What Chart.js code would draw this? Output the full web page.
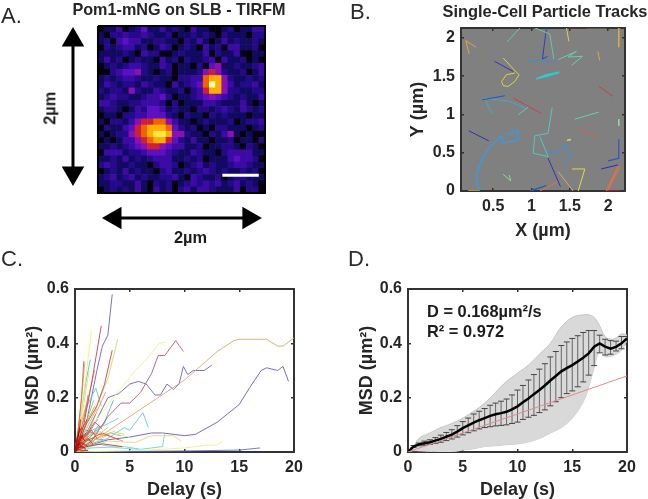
<!DOCTYPE html>
<html>
<head>
<meta charset="utf-8">
<script src="https://cdn.jsdelivr.net/npm/chart.js@4"></script>
<style>
  html, body { margin: 0; padding: 0; background: #fff; }
  #page { position: relative; width: 648px; height: 499px; overflow: hidden; font-family: 'Liberation Sans', Arial, sans-serif; color: #1c1c1c; filter: blur(.4px); }
  canvas { position: absolute; }
  .letter { position: absolute; font-size: 22px; line-height: 1; color: #2a2a2a; }
  .note { position: absolute; font-size: 16.4px; line-height: 1; font-weight: bold; white-space: nowrap; }
</style>
</head>
<body>
<div id="page">
  <canvas id="panelA" width="358" height="250" style="left:0;top:0"></canvas>
  <canvas id="panelB" width="290" height="240" style="left:400px;top:0"></canvas>
  <canvas id="panelC" width="324" height="249" style="left:0;top:250px"></canvas>
  <canvas id="panelD" width="324" height="249" style="left:324px;top:250px"></canvas>
  <div class="letter" style="left:1px;top:5px">A.</div>
  <div class="letter" style="left:350px;top:1px">B.</div>
  <div class="letter" style="left:1px;top:248px">C.</div>
  <div class="letter" style="left:348px;top:248px">D.</div>
  <div class="note" style="left:33px;top:100px;transform:rotate(-90deg)">2µm</div>
  <div class="note" style="left:174px;top:229px">2µm</div>
  <div class="note" style="left:427px;top:303px">D = 0.168µm²/s</div>
  <div class="note" style="left:427px;top:323px">R² = 0.972</div>
</div>
<script>
// Panel A: camera image, one string per row, intensity level per cell
const heatRows = [
  '011301241131210311001201133',
  '102232232112011212102111022',
  '120343311221102131013121121',
  '021233120132012103120331120',
  '111121032200121113021130011',
  '131201211031202112303112010',
  '012123321132011020451121123',
  '002344521012011125652112013',
  '121233211211022337885211212',
  '132122132110312347a85312231',
  '212215211321120236885221122',
  '123221123342011234543212113',
  '332112233320201113321113101',
  '122101324431211022123213212',
  '011022334442102110212111011',
  '102213566775311012111201223',
  '021134678887421201022111012',
  '101225678998552110213510100',
  '010133567886421311011201102',
  '112123456654331120112210210',
  '033312234443211321102333311',
  '112131212333112120111343320',
  '232112110233201231211233211',
  '012131211023112123212112120',
  '123123121122310321120122111',
  '112211310212012323231231210',
  '012121310312023133211130220'
];
const scaleBarCols = [20.1, 26];
const scaleBarRows = [24.1, 24.1];
const imageEdgeX = [0, 27, 27, 0, 0];
const imageEdgeY = [0, 0, 27, 27, 0];
const arrowUpDownX = [-4.04, -4.04];
const arrowUpDownY = [2.26, 23.77];
const arrowLeftRightX = [2.75, 24.4];
const arrowLeftRightY = [31.04, 31.04];

// Panel B: particle tracks as [x, y] in µm
const trackPaths = [
  [[.274,1.88],[.143,1.965],[.187,1.79]],
  [[.683,1.948],[.857,2.14],[1.022,2.14],[1.239,2.052],[1.291,1.725]],
  [[1.196,2.14],[1.143,1.725],[1.209,1.76]],
  [[1.457,2.131],[1.487,1.956]],
  [[1.457,2.135],[1.717,2.135]],
  [[1.717,2.135],[1.978,2.135]],
  [[2.139,2.131],[2.139,1.878]],
  [[.517,1.694],[.761,1.563]],
  [[.63,1.738],[.804,1.55],[.839,1.52],[.783,1.432],[.696,1.367],[.63,1.376],[.609,1.432],[.674,1.52],[.783,1.541]],
  [[.935,1.686],[1.109,1.716],[1.326,1.686]],
  [[1.348,1.716],[1.587,1.825],[1.478,1.751],[1.665,1.76],[1.522,1.642]],
  [[1.865,1.825],[1.891,1.703]],
  [[1.057,1.463],[1.196,1.52],[1.361,1.55],[1.2,1.5],[1.074,1.472]],
  [[1.878,1.367],[2.065,1.236]],
  [[.361,1.192],[.652,1.245]],
  [[.491,1.009],[.435,1.105],[.391,1.214],[.717,1.17],[.913,1.083]],
  [[.826,.996],[.957,1.096]],
  [[.761,1.214],[1.122,1.017]],
  [[1.565,.939],[1.878,1.031]],
  [[2.139,.939],[2.139,.852]],
  [[1.27,1.092],[1.217,.755],[1.043,.721],[1.022,.493],[1.217,.45],[1.109,.712]],
  [[.183,.786],[.443,.655]],
  [[.317,0],[.274,.188],[.348,.406],[.457,.581],[.609,.721],[.63,.624],[.826,.668],[.826,.79],[.674,.734]],
  [[1.196,.515],[1.326,.493],[1.448,.603],[1.509,.472],[1.413,.341]],
  [[1.487,.677],[1.491,.659]],
  [[1.617,.799],[1.857,.712]],
  [[2.139,.677],[2.139,.428],[2,.393]],
  [[1.909,.288],[2.13,.341]],
  [[1.217,.428],[1.378,.057]],
  [[1.53,.288],[1.696,.288],[1.609,0]],
  [[.63,.218],[.73,.131],[.709,.21]],
  [[1.978,0],[2.13,.332],[2,.013],[2.152,.319]],
  [[1.348,.253],[1.543,0]],
  [[1.109,0],[1.361,.131]],
  [[.978,0],[1.196,.07]],
  [[.174,0],[.326,0]],
  [[1.978,0],[2.152,0]]
];
const trackColors = ['#e8a234','#66c8a4','#2f3fc0','#d8d050','#9c2a30','#a8962e','#dcb040','#3535b5','#e2d23e','#3f8fc4','#62d0b0','#e2a448','#2fc8d8','#c04444','#2a50c0','#40a8c0','#62c8d2','#c84444','#62d0b0','#90d8a0','#50c8c8','#3030b0','#4a94c8','#4090d0','#e4e440','#d06050','#3050d0','#2830b0','#3030c0','#e0d850','#84d8a0','#e07048','#e0a070','#e07040','#2060c0','#a89a2a','#9c2020'];
const trackWidths = [1,1,1,1,1.5,1.5,1.5,1,1,1.2,1,1,1.6,1,1,1.2,1,1,1,1,1,1,2,1.3,4,1,1.2,1,1,1,1,1.1,1,1,1.5,2,2];

// Panel C: MSD curves for single tracks, [delay, msd]
const msdLines = [
  [[0,0],[1,.05],[2,.12],[3,.2],[4,.215],[5,.25],[5.8,.26],[6.5,.25],[7.3,.21],[7.8,.21],[8.4,.25],[9,.23],[9.5,.25],[9.9,.315],[10.3,.285],[10.8,.3],[11.8,.3],[12.5,.32]],
  [[0,0],[1,.02],[3,.045],[5,.055],[7,.07],[8,.07],[10,.06],[11,.065],[13,.11],[15,.175],[16,.24],[17,.3],[17.5,.31],[18.5,.3],[19,.315],[19.5,.26]],
  [[0,0],[1,.1],[2,.3],[2.5,.39],[3,.43],[3.4,.58]],
  [[0,0],[5,.002],[10,.004],[15,.007],[16.9,.015]],
  [[0,0],[.6,.04],[1.3,.09],[1.9,.14]],
  [[0,0],[1,.02],[2,.05],[3.2,.07],[4.2,.06]],
  [[0,0],[.8,.03],[1.5,.06],[2.2,.1]],
  [[0,0],[.5,.05],[1,.08],[1.6,.07]],
  [[0,0],[.6,.02],[1.2,.045],[2,.03]],
  [[0,0],[1.5,.03],[3,.05],[4.5,.09],[5,.08],[6.2,.145],[6.7,.09]],
  [[0,0],[1.5,.015],[4.5,.02],[6,.01],[7,.015],[8,.02],[8.2,.07]],
  [[0,0],[.5,.08],[1.1,.17],[1.9,.235],[2.4,.17]],
  [[0,0],[1.5,.08],[2.8,.1],[4,.125]],
  [[0,0],[.5,.13],[1,.26],[1.4,.34]],
  [[0,0],[.7,.05],[1.3,.08],[2.1,.12]],
  [[0,0],[2,.03],[4,.015],[5.8,.01]],
  [[0,0],[1.5,.06],[2.6,.1],[3.2,.16],[3.5,.19]],
  [[0,0],[1,.05],[2,.08],[2.8,.11]],
  [[0,0],[.4,.04],[1.2,.1],[2,.16]],
  [[0,0],[2,.04],[3.5,.075],[4.5,.065]],
  [[0,0],[.6,.06],[1.2,.13],[1.7,.19]],
  [[0,0],[1,.03],[2,.06],[3,.09]],
  [[0,0],[1.5,.12],[3,.27],[3.9,.415]],
  [[0,0],[.5,.12],[1,.28],[1.5,.445]],
  [[0,0],[.4,.08],[.9,.2],[1.3,.3]],
  [[0,0],[1.2,.03],[3,.07],[5,.055]],
  [[0,0],[.8,.04],[1.6,.07],[2.4,.075]],
  [[0,0],[2,.12],[3.5,.2],[5.5,.3],[6.5,.34],[7.7,.4],[8.3,.405]],
  [[0,0],[5,.005],[8,.01],[10,.015],[12,.025],[13,.025],[13.5,.04]],
  [[0,0],[3,.04],[5.5,.035],[7,.06],[9,.06],[9.7,.04]],
  [[0,0],[2,.05],[10,.265],[13,.37],[14.5,.41],[15,.415],[17.5,.415],[18.5,.39],[19,.39],[20,.42]],
  [[0,0],[.3,.08],[.6,.2],[.9,.33]],
  [[0,0],[.5,.1],[1.1,.18],[1.8,.3]],
  [[0,0],[1,.05],[2,.15],[2.8,.22]],
  [[0,0],[1.5,.07],[3,.06],[4.4,.04]],
  [[0,0],[.6,.07],[1.2,.12],[1.8,.17]],
  [[0,0],[.7,.03],[1.5,.05],[2.6,.045]],
  [[0,0],[.4,.06],[.8,.12],[1.2,.21]],
  [[0,0],[1.5,.04],[3,.13],[4.2,.18],[5,.18],[6,.22],[7,.29],[7.6,.355],[8.2,.355],[9.2,.41],[9.9,.37]],
  [[0,0],[.3,.09],[.6,.2],[.8,.335]],
  [[0,0],[.8,.1],[1.5,.25],[2.4,.465]],
  [[0,0],[1,.1],[2,.17],[2.7,.25],[3.4,.375]],
  [[0,0],[1,.04],[2.5,.07],[4,.045]],
  [[0,0],[1,.06],[1.8,.11],[2.5,.085]],
  [[0,0],[.7,.05],[1.5,.08],[2,.05]],
  [[0,0],[1,.02],[2.5,.03],[4.3,.02]],
  [[0,0],[.5,.03],[1.2,.05],[1.6,.03]],
  [[0,0],[.4,.05],[.7,.09],[1.1,.12]],
  [[0,0],[.3,.03],[.6,.05],[1,.07]],
  [[0,0],[.4,.02],[.8,.03],[1.2,.02]],
  [[0,0],[.2,.03],[.5,.06],[.7,.05]],
  [[0,0],[.2,.05],[.4,.08],[.5,.12]],
  [[0,0],[.2,.01],[.5,.02],[.9,.015]],
  [[0,0],[.15,.02],[.3,.04],[.45,.03]],
  [[0,0],[.1,.03],[.2,.05],[.3,.07]],
  [[0,0],[.3,.01],[.6,.005],[1.2,.006]],
  [[0,0],[.3,.04],[.6,.06],[.9,.04]],
  [[0,0],[.25,.02],[.5,.035],[.8,.03]],
  [[0,0],[.2,.04],[.35,.07],[.6,.09]],
  [[0,0],[.35,.015],[.7,.02],[1,.01]],
  [[0,0],[.15,.04],[.3,.06],[.4,.09]],
  [[0,0],[.3,.025],[.5,.045],[.75,.065]],
  [[0,0],[.2,.015],[.4,.03],[.65,.02]],
  [[0,0],[.1,.02],[.25,.03],[.5,.025]]
];
const msdColors = ['#6a62c4','#6a5cbc','#6a62c8','#6070cc','#5a70d4','#6058bc','#5a80dc','#5a88d8','#5a98dc','#60c8e8','#60d8d8','#60c8b8','#70d0d8','#50c8d0','#60c0c0','#70d8e0','#50b8b0','#80d098','#90d080','#b8d870','#88cc60','#a8d470','#c0e070','#f0f070','#e8e060','#f0e888','#e0d070','#f0f080','#f0f080','#f0d080','#d8a868','#e8a850','#e8a850','#e89860','#e89058','#e0a050','#d89850','#e07850','#b85870','#e06050','#c84060','#d84040','#e05040','#d84838','#e04030','#d83828','#d83020','#d83020','#d02818','#d02818','#c82010','#c82010','#c82010','#c82010','#c82010','#c82010','#c01808','#c01808','#b81808','#b81808','#b01000','#b01000','#b01000','#b01000'];

// Panel D: mean MSD every 0.5 s with error bars, shaded spread and linear fit
const meanX = [0,.5,1,1.5,2,2.5,3,3.5,4,4.5,5,5.5,6,6.5,7,7.5,8,8.5,9,9.5,10,10.5,11,11.5,12,12.5,13,13.5,14,14.5,15,15.5,16,16.5,17,17.5,18,18.5,19,19.5,20];
const meanY = [0,.02,.028,.032,.036,.042,.048,.056,.064,.075,.088,.098,.108,.117,.125,.133,.139,.143,.148,.157,.168,.183,.197,.213,.228,.245,.263,.28,.297,.309,.32,.333,.347,.363,.388,.4,.388,.38,.387,.4,.418];
const errHigh = [0,.024,.033,.04,.045,.053,.062,.072,.082,.097,.112,.125,.14,.15,.16,.172,.18,.187,.195,.21,.228,.245,.265,.285,.305,.325,.35,.37,.392,.405,.418,.428,.44,.447,.447,.43,.415,.41,.408,.425,.425];
const errLow = [0,.017,.023,.025,.028,.032,.036,.042,.048,.055,.063,.071,.078,.085,.09,.093,.096,.098,.1,.105,.11,.12,.128,.135,.145,.155,.17,.185,.2,.215,.225,.24,.258,.283,.318,.365,.357,.36,.372,.38,.41];
const bandX = [0,.5,1,2,3,4,5,6,7,8,9,10,11,12,13,14,15,16,16.5,17,17.5,18,18.5,19,19.5,20];
const bandHigh = [0,.02,.05,.07,.09,.105,.125,.15,.18,.22,.26,.29,.32,.36,.4,.46,.495,.505,.505,.495,.465,.425,.415,.42,.435,.43];
const bandLow = [0,.005,.004,.002,0,0,.007,.012,.02,.023,.027,.03,.037,.05,.07,.09,.125,.185,.24,.31,.37,.352,.352,.36,.375,.41];
const fitX = [0, 20];
const fitY = [0, .28];

// Axis ticks
const tracksXTicks = [.5, 1, 1.5, 2];
const tracksYTicks = [0, .5, 1, 1.5, 2];
const delayTicks = [0, 5, 10, 15, 20];
const msdTicks = [0, .2, .4, .6];

const heatColors = ['#04000e','#120a60','#240a88','#3c0aa4','#5c10c0','#8a10b0','#cc2038','#f06400','#ffac00','#ffe848','#ffffa8'];
const FONT = "'Liberation Sans', Arial, sans-serif";
const INK = '#262626';
const EDGE = '#333333';

const points = (xs, ys) => xs.map((x, i) => ({ x, y: ys[i] }));
const pairs = path => path.map(p => ({ x: p[0], y: p[1] }));

// paints the plot background when a panel asks for it
const areaFill = {
  id: 'areaFill',
  beforeDraw(chart, args, opts) {
    if (!opts.color) return;
    const a = chart.chartArea;
    chart.ctx.fillStyle = opts.color;
    chart.ctx.fillRect(a.left, a.top, a.width, a.height);
  }
};
Chart.register(areaFill);

// MATLAB style boxed axes, ticks pointing in, sizes pinned so the plot box lands exactly
function boxedScales(cfg) {
  const ticksOf = list => ax => { ax.ticks = list.map(value => ({ value })); };
  const common = {
    type: 'linear',
    border: { display: true, color: EDGE, width: 2 },
    grid: { drawOnChartArea: false, drawTicks: true, tickLength: -3, color: EDGE, lineWidth: 1.5 }
  };
  const tickStyle = { color: INK, font: { family: FONT, size: 16, weight: 'bold', lineHeight: 1 }, maxRotation: 0, autoSkip: false, callback: v => String(v) };
  const titleFont = { family: FONT, size: 18, weight: 'bold', lineHeight: 1 };
  return {
    x: { ...common, position: 'bottom', min: cfg.xMin, max: cfg.xMax, afterBuildTicks: ticksOf(cfg.xTicks),
      ticks: { ...tickStyle, padding: cfg.xTickPad },
      title: { display: true, text: cfg.xTitle, color: INK, font: titleFont, padding: { top: cfg.xTitlePad, bottom: 0 } },
      afterFit: s => { s.height = cfg.bottom; } },
    y: { ...common, position: 'left', min: cfg.yMin, max: cfg.yMax, afterBuildTicks: ticksOf(cfg.yTicks),
      ticks: { ...tickStyle, padding: cfg.yTickPad },
      title: { display: true, text: cfg.yTitle, color: INK, font: titleFont, padding: { top: cfg.yTitlePad, bottom: 0 } },
      afterFit: s => { s.width = cfg.left; } },
    x2: { ...common, axis: 'x', position: 'top', min: cfg.xMin, max: cfg.xMax, afterBuildTicks: ticksOf(cfg.xTicks),
      ticks: { display: false }, afterFit: s => { s.height = cfg.top; } },
    y2: { ...common, axis: 'y', position: 'right', min: cfg.yMin, max: cfg.yMax, afterBuildTicks: ticksOf(cfg.yTicks),
      ticks: { display: false }, afterFit: s => { s.width = cfg.right; } }
  };
}

const baseOptions = {
  responsive: false,
  animation: false,
  layout: { autoPadding: false },
  elements: { point: { radius: 0 }, line: { tension: 0 } }
};
const quietPlugins = { legend: { display: false }, tooltip: { enabled: false } };

// Panel A
const heatCells = [];
heatRows.forEach((row, r) => {
  row.split('').forEach((ch, c) => heatCells.push({ x: c + .5, y: r + .5, level: parseInt(ch, 16) }));
});
new Chart(document.getElementById('panelA'), {
  type: 'scatter',
  data: {
    datasets: [
      { type: 'line', data: points(arrowUpDownX, arrowUpDownY), borderColor: '#000', borderWidth: 3, clip: false,
        pointStyle: 'triangle', pointRadius: 13, pointBackgroundColor: '#000', pointBorderWidth: 0, pointRotation: [0, 180] },
      { type: 'line', data: points(arrowLeftRightX, arrowLeftRightY), borderColor: '#000', borderWidth: 3, clip: false,
        pointStyle: 'triangle', pointRadius: 13, pointBackgroundColor: '#000', pointBorderWidth: 0, pointRotation: [270, 90] },
      { type: 'line', data: points(scaleBarCols, scaleBarRows), borderColor: '#fff', borderWidth: 3, pointRadius: 0, order: -2 },
      { type: 'line', data: points(imageEdgeX, imageEdgeY), borderColor: '#000', borderWidth: 2, pointRadius: 0, clip: false, order: -1 },
      { data: heatCells, pointStyle: 'rect', pointRadius: 4.8, pointBorderWidth: 0,
        pointBackgroundColor: heatCells.map(c => heatColors[c.level]) }
    ]
  },
  options: {
    ...baseOptions,
    plugins: {
      ...quietPlugins,
      title: { display: true, text: 'Pom1-mNG on SLB - TIRFM', color: INK, font: { family: FONT, size: 16.2, weight: 'bold', lineHeight: 1 }, padding: { top: 2, bottom: 7.8 } }
    },
    scales: {
      x: { display: false, min: -15.84, max: 42.04 },
      y: { display: false, reverse: true, min: 0, max: 36.2 }
    }
  }
});

// Panel B
new Chart(document.getElementById('panelB'), {
  type: 'line',
  data: {
    datasets: trackPaths.map((path, i) => ({
      data: pairs(path), borderColor: trackColors[i], borderWidth: trackWidths[i], pointRadius: 0
    }))
  },
  options: {
    ...baseOptions,
    plugins: {
      ...quietPlugins,
      areaFill: { color: '#808080' },
      title: { display: true, text: 'Single-Cell Particle Tracks', color: INK, font: { family: FONT, size: 16.4, weight: 'bold', lineHeight: 1 }, padding: { top: 4, bottom: 3.6 } }
    },
    scales: boxedScales({
      xMin: .08, xMax: 2.22, yMin: 0, yMax: 2.13,
      xTicks: tracksXTicks, yTicks: tracksYTicks,
      xTitle: 'X (µm)', yTitle: 'Y (µm)',
      left: 61, right: 65, top: 4, bottom: 49,
      xTickPad: 11, yTickPad: 9, xTitlePad: 1, yTitlePad: 9
    })
  }
});

// Panel C
new Chart(document.getElementById('panelC'), {
  type: 'line',
  data: {
    datasets: msdLines.map((path, i) => ({
      data: pairs(path), borderColor: msdColors[i], borderWidth: .9, pointRadius: 0, order: msdLines.length - i
    }))
  },
  options: {
    ...baseOptions,
    plugins: quietPlugins,
    scales: boxedScales({
      xMin: 0, xMax: 20, yMin: 0, yMax: .6,
      xTicks: delayTicks, yTicks: msdTicks,
      xTitle: 'Delay (s)', yTitle: 'MSD (µm²)',
      left: 75, right: 30, top: 39, bottom: 47,
      xTickPad: 11, yTickPad: 9, xTitlePad: 0, yTitlePad: 24
    })
  }
});

// Panel D
const errorBars = [];
meanX.slice(1).forEach((x, i) => {
  errorBars.push({ x, y: errLow[i + 1] }, { x, y: errHigh[i + 1] }, { x, y: NaN });
});
new Chart(document.getElementById('panelD'), {
  type: 'line',
  data: {
    datasets: [
      { data: points(fitX, fitY), borderColor: '#e38a8a', borderWidth: 1, pointRadius: 0, order: 1 },
      { data: points(meanX, meanY), borderColor: '#000', borderWidth: 2.5, pointRadius: 0, order: 2 },
      { data: errorBars, borderColor: '#666', borderWidth: 1, pointStyle: 'line', pointRadius: 3, pointBorderWidth: 1, pointBorderColor: '#444', spanGaps: false, order: 3 },
      { data: points(bandX, bandHigh), borderColor: '#c4c4c4', borderWidth: 1, pointRadius: 0, tension: .4, fill: 4, backgroundColor: '#d9d9d9', order: 4 },
      { data: points(bandX, bandLow), borderColor: '#c4c4c4', borderWidth: 1, pointRadius: 0, tension: .4, order: 5 }
    ]
  },
  options: {
    ...baseOptions,
    plugins: quietPlugins,
    scales: boxedScales({
      xMin: 0, xMax: 20, yMin: 0, yMax: .6,
      xTicks: delayTicks, yTicks: msdTicks,
      xTitle: 'Delay (s)', yTitle: 'MSD (µm²)',
      left: 84, right: 21, top: 39, bottom: 47,
      xTickPad: 11, yTickPad: 9, xTitlePad: 0, yTitlePad: 34
    })
  }
});
</script>
</body>
</html>
